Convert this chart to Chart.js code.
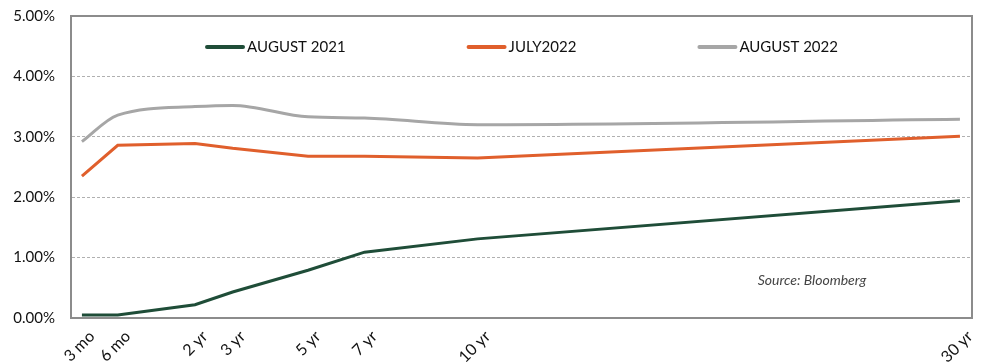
<!DOCTYPE html>
<html>
<head>
<meta charset="utf-8">
<script src="https://cdn.jsdelivr.net/npm/chart.js@4.4.1/dist/chart.umd.min.js"></script>
<style>
  html, body { margin: 0; padding: 0; background: #fff; }
  #wrap { width: 987px; height: 364px; }
</style>
</head>
<body>
<div id="wrap"><canvas id="curva"></canvas></div>
<script>
// Plazos de la curva (posición en el eje y etiqueta)
const plazos = [0, 0.95, 3, 4, 6, 7.5, 10.5, 23.3];
const etiquetasPlazo = ['3 mo', '6 mo', '2 yr', '3 yr', '5 yr', '7 yr', '10 yr', '30 yr'];

// Rendimientos (%)
const agosto2021 = [0.05, 0.05, 0.22, 0.43, 0.79, 1.09, 1.31, 1.94];
const julio2022 = [2.35, 2.86, 2.89, 2.81, 2.68, 2.68, 2.65, 3.01];
const agosto2022 = [2.92, 3.36, 3.50, 3.52, 3.33, 3.31, 3.20, 3.29];

const ticksY = [0, 1, 2, 3, 4, 5];

const fuente = 'Lato, "Open Sans", sans-serif';

function puntos(valores) {
    return valores.map((v, i) => ({ x: plazos[i], y: v }));
}

// Marco del área, leyenda dentro del gráfico y fuente
const extras = {
    id: 'extras',
    afterDraw(chart) {
        const ctx = chart.ctx;
        const a = chart.chartArea;
        ctx.save();
        ctx.strokeStyle = '#8c8c8c';
        ctx.lineWidth = 2;
        ctx.strokeRect(a.left, a.top, a.right - a.left, a.bottom - a.top);

        // leyenda
        ctx.font = '15px ' + fuente;
        ctx.textBaseline = 'middle';
        const largo = 38, sep = 4, hueco = 121;
        const items = chart.data.datasets.map(d => ({
            d: d, w: largo + sep + ctx.measureText(d.label).width
        }));
        const total = items.reduce((s, it) => s + it.w, 0) + hueco * (items.length - 1);
        let x = (a.left + a.right) / 2 - total / 2;
        const y = a.top + 31;
        items.forEach(it => {
            ctx.strokeStyle = it.d.borderColor;
            ctx.lineWidth = 4;
            ctx.lineCap = 'round';
            ctx.beginPath();
            ctx.moveTo(x + 2, y);
            ctx.lineTo(x + largo, y);
            ctx.stroke();
            ctx.fillStyle = '#111';
            ctx.fillText(it.d.label, x + largo + sep, y);
            x += it.w + hueco;
        });

        ctx.font = 'italic 14px ' + fuente;
        ctx.fillStyle = '#444';
        ctx.textAlign = 'center';
        ctx.fillText('Source: Bloomberg', a.right - 160, a.bottom - 38);
        ctx.restore();
    }
};

const ctxCurva = document.getElementById('curva').getContext('2d');
const curvaChart = new Chart(ctxCurva, {
    type: 'line',
    data: {
        datasets: [{
            label: 'AUGUST 2021',
            data: puntos(agosto2021),
            borderColor: '#1f4d38',
            borderWidth: 3,
            pointRadius: 0,
            tension: 0
        }, {
            label: 'JULY2022',
            data: puntos(julio2022),
            borderColor: '#e05f2c',
            borderWidth: 3,
            pointRadius: 0,
            tension: 0
        }, {
            label: 'AUGUST 2022',
            data: puntos(agosto2022),
            borderColor: '#a6a6a6',
            borderWidth: 3,
            pointRadius: 0,
            cubicInterpolationMode: 'monotone'
        }]
    },
    options: {
        responsive: true,
        maintainAspectRatio: false,
        animation: false,
        layout: { padding: { top: 16, right: 15, left: 0, bottom: 0 } },
        plugins: {
            legend: { display: false },
            tooltip: { enabled: false }
        },
        scales: {
            x: {
                type: 'linear',
                min: -0.29,
                max: 23.62,
                afterBuildTicks: s => { s.ticks = plazos.map(v => ({ value: v })); },
                afterFit: s => { s.height = 46; },
                grid: { display: false, drawTicks: false },
                border: { display: false },
                ticks: {
                    autoSkip: false,
                    maxRotation: 45,
                    minRotation: 45,
                    padding: 9,
                    labelOffset: 10,
                    color: '#111',
                    font: { family: fuente, size: 16 },
                    callback: v => etiquetasPlazo[plazos.indexOf(v)]
                }
            },
            y: {
                min: 0,
                max: 5,
                afterBuildTicks: s => { s.ticks = ticksY.map(v => ({ value: v })); },
                afterFit: s => { s.width = 71; s.paddingTop = 0; s.paddingBottom = 0; },
                grid: {
                    color: '#b0b0b0',
                    lineWidth: 1,
                    drawTicks: false
                },
                border: { display: true, color: 'rgba(0,0,0,0)', dash: [3, 2] },
                ticks: {
                    padding: 16,
                    color: '#111',
                    font: { family: fuente, size: 15 },
                    callback: v => v.toFixed(2) + '%'
                }
            }
        }
    },
    plugins: [extras]
});
</script>
</body>
</html>
